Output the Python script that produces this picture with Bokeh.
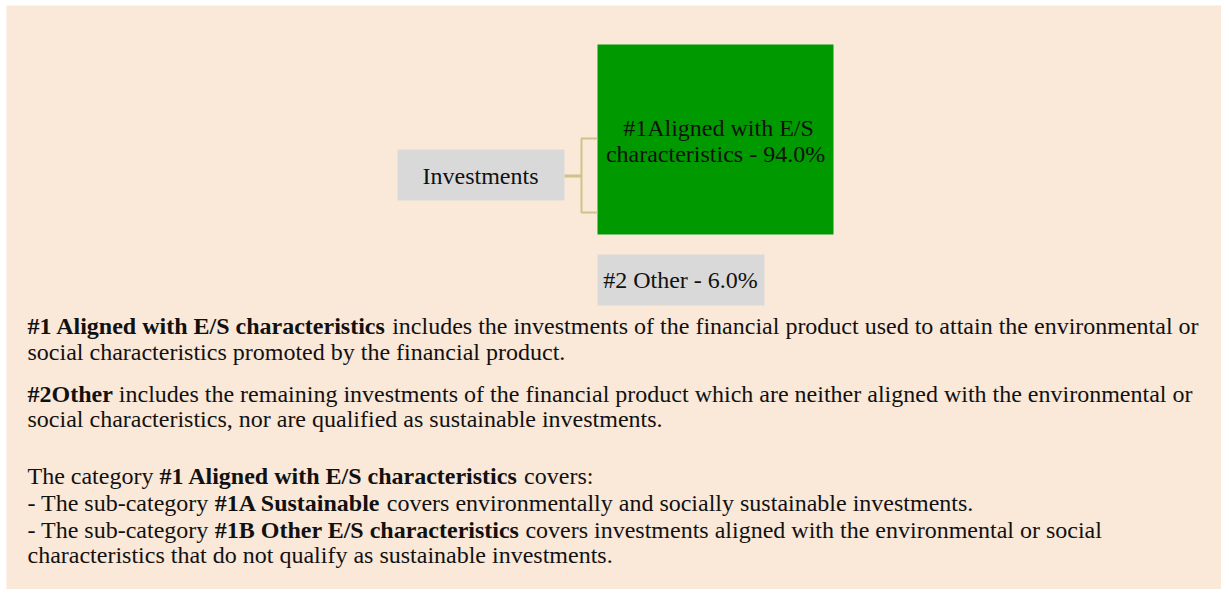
from bokeh.plotting import figure
from bokeh.models import Range1d, ColumnDataSource
from bokeh.core.properties import value
from bokeh.embed import file_html
from bokeh.resources import INLINE

# ---------------- data ----------------
root_label = "Investments"
categories = ["#1Aligned with E/S characteristics", "#2 Other"]
shares = [94.0, 6.0]

para_lines = [
    [("#1 Aligned with E/S characteristics", True),
     (" includes the investments of the financial product used to attain the environmental or", False)],
    [("social characteristics promoted by the financial product.", False)],
    [("#2Other", True),
     (" includes the remaining investments of the financial product which are neither aligned with the environmental or", False)],
    [("social characteristics, nor are qualified as sustainable investments.", False)],
    [("The category ", False), ("#1 Aligned with E/S characteristics", True), (" covers:", False)],
    [("- The sub-category ", False), ("#1A Sustainable", True),
     (" covers environmentally and socially sustainable investments.", False)],
    [("- The sub-category ", False), ("#1B Other E/S characteristics", True),
     (" covers investments aligned with the environmental or social", False)],
    [("characteristics that do not qualify as sustainable investments.", False)],
]

# ---------------- font metrics (Times / Liberation Serif) ----------------
UP = "ABCDEFGHIJKLMNOPQRSTUVWXYZ"
LO = "abcdefghijklmnopqrstuvwxyz"
ROMAN = dict(zip(UP, [722, 667, 667, 722, 611, 556, 722, 722, 333, 389, 722, 611, 889,
                      722, 722, 556, 722, 667, 556, 611, 722, 722, 944, 722, 722, 611]))
ROMAN.update(zip(LO, [444, 500, 444, 500, 444, 333, 500, 500, 278, 278, 500, 278, 778,
                      500, 500, 500, 500, 333, 389, 278, 500, 500, 722, 500, 500, 444]))
ROMAN.update({" ": 250, "#": 500, "%": 833, ",": 250, "-": 333, ".": 250, "/": 278, ":": 278})
ROMAN.update({d: 500 for d in "0123456789"})
BOLD = dict(zip(UP, [722, 667, 722, 722, 667, 611, 778, 778, 389, 500, 778, 667, 944,
                     722, 778, 611, 778, 722, 556, 667, 722, 722, 1000, 722, 722, 667]))
BOLD.update(zip(LO, [500, 556, 444, 556, 444, 333, 500, 556, 278, 333, 556, 278, 833,
                     556, 500, 556, 556, 444, 389, 333, 556, 500, 722, 500, 500, 444]))
BOLD.update({" ": 250, "#": 500, "%": 1000, ",": 250, "-": 333, ".": 250, "/": 278, ":": 333})
BOLD.update({d: 500 for d in "0123456789"})


def text_width(s, bold, size):
    table = BOLD if bold else ROMAN
    return sum(table.get(c, 500) for c in s) / 1000.0 * size


# ---------------- figure ----------------
W, H = 1221, 589
ML, MT = 6, 5
p = figure(width=W, height=H, output_backend="svg", toolbar_location=None,
           x_range=Range1d(ML, W), y_range=Range1d(H, MT),
           min_border=0, min_border_left=ML, min_border_right=0,
           min_border_top=MT, min_border_bottom=0)
p.axis.visible = False
p.grid.visible = False
p.outline_line_color = None
BG = "#fae8d8"
p.background_fill_color = BG
p.border_fill_color = "white"

SERIF = value("Liberation Serif")
INK = "#111111"

# boxes
box_src = ColumnDataSource(dict(
    left=[397, 597, 597], right=[564, 833, 764],
    top=[149, 44, 254], bottom=[200, 234, 305],
    color=["#d9d9d9", "#009900", "#d9d9d9"]))
p.quad(left="left", right="right", top="top", bottom="bottom", fill_color="color",
       line_color=None, source=box_src)

# connector
CONN = "#cdc48a"
p.line([564, 581], [175.5, 175.5], line_color=CONN, line_width=3)
p.multi_line([[597, 581, 581, 597]], [[138, 138, 212, 212]], line_color=CONN, line_width=2)

# box labels
words1 = categories[0].split(" ")
green_lines = [" ".join(words1[:3]), " ".join(words1[3:]) + " - %.1f%%" % shares[0]]
other_label = "%s - %.1f%%" % (categories[1], shares[1])
p.text(x=[480], y=[175], text=[root_label], text_font=SERIF, text_font_size="24px",
       text_align="center", text_baseline="alphabetic", text_color=INK)
p.text(x=[718, 715], y=[127, 153], text=green_lines, text_font=SERIF, text_font_size="24px",
       text_align="center", text_baseline="alphabetic", text_color=INK)
p.text(x=[680], y=[279], text=[other_label], text_font=SERIF, text_font_size="24px",
       text_align="center", text_baseline="alphabetic", text_color=INK)

# paragraphs
BODY = 24
baselines = [325, 351, 393, 418, 475, 502, 529, 554]
xs = {True: [], False: []}
ys = {True: [], False: []}
ts = {True: [], False: []}
for line, yb in zip(para_lines, baselines):
    x = 27.0
    for seg, bold in line:
        lead = len(seg) - len(seg.lstrip(" "))
        core = seg.strip(" ")
        xs[bold].append(x + text_width(" " * lead, bold, BODY))
        ys[bold].append(yb)
        ts[bold].append(core)
        x += text_width(seg, bold, BODY)

for bold in (False, True):
    p.text(x=xs[bold], y=ys[bold], text=ts[bold], text_font=SERIF,
           text_font_size="%dpx" % BODY, text_font_style="bold" if bold else "normal",
           text_align="left", text_baseline="alphabetic", text_color=INK)

open("out.html", "w").write(file_html(p, INLINE))
